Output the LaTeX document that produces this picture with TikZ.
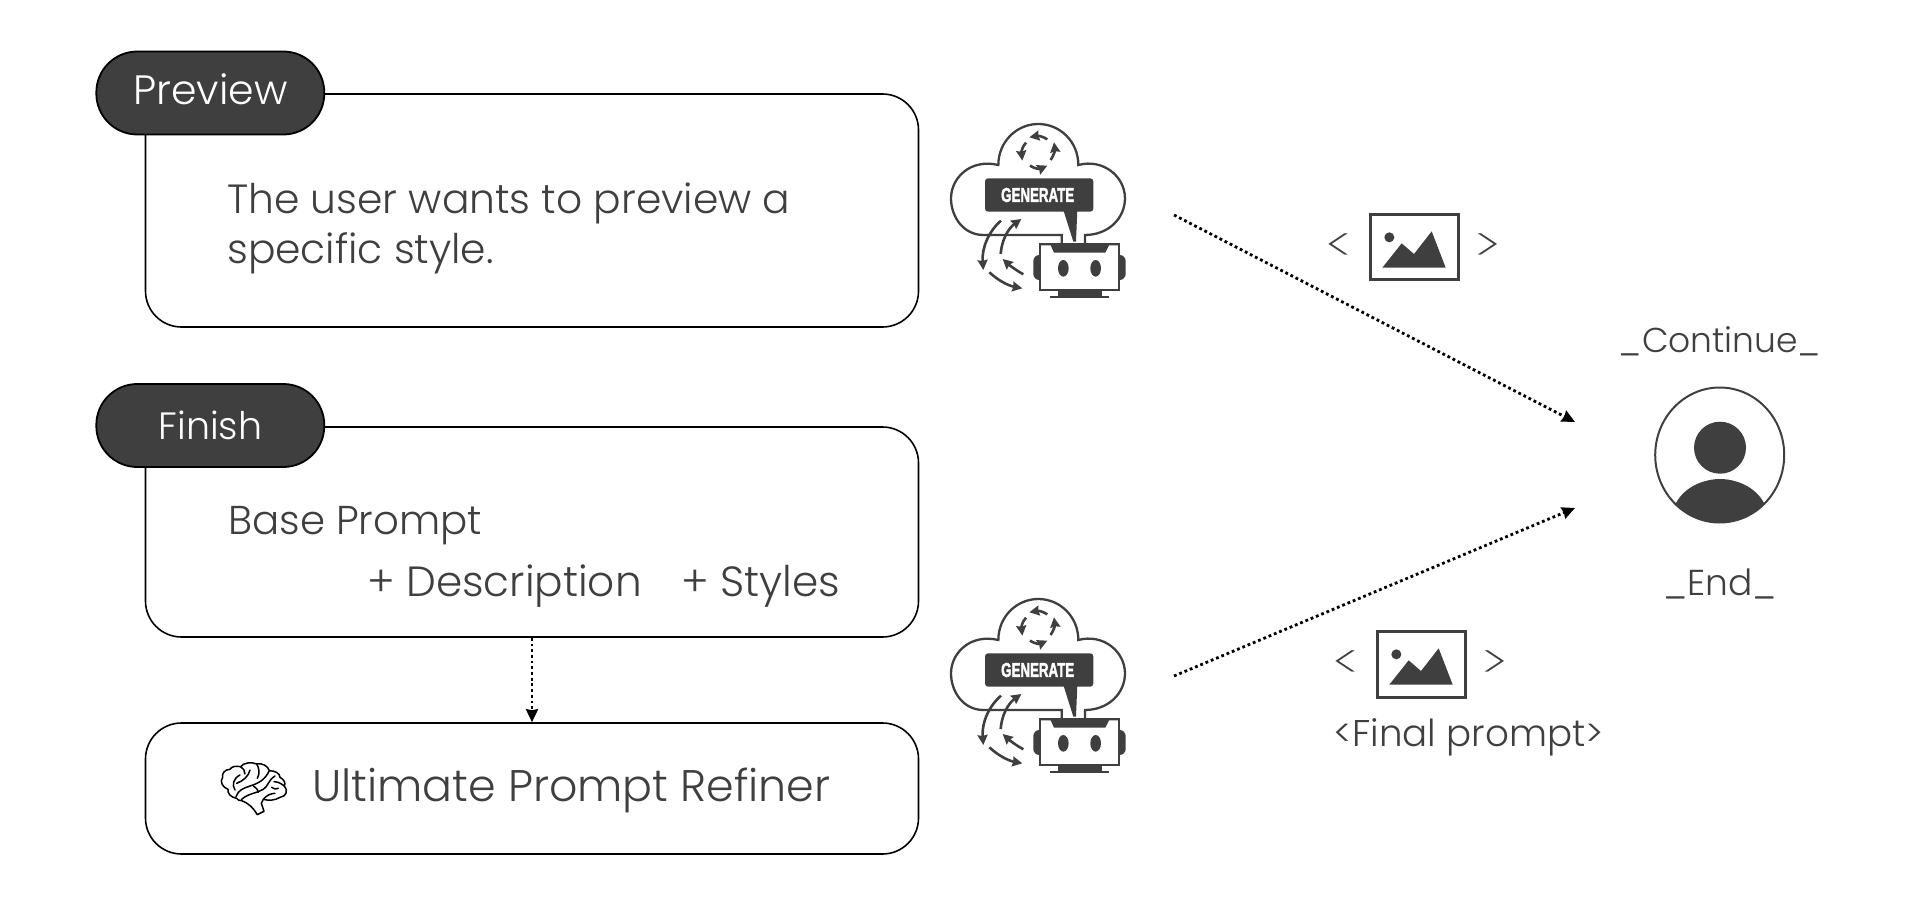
\documentclass[tikz,border=0pt]{standalone}
\usepackage{fontspec}
\usetikzlibrary{arrows.meta,shapes.geometric}
\setmainfont{Poppins}[UprightFont=* Light,BoldFont=* Medium]
\newfontfamily\genfont{Liberation Sans}[BoldFeatures={FakeBold=2.5}]
\newfontfamily\slimfont{Poppins}[UprightFont=* ExtraLight]
\definecolor{ink}{HTML}{3F3F3F}
\newcommand{\flatglyph}[1]{\scalebox{0.92}[0.69]{\slimfont #1}}
\tikzset{
  panel/.style={draw=black,line width=1.6pt,fill=white,rounded corners=36pt,minimum width=773pt,inner sep=0pt},
  pill/.style={draw=black,line width=1.8pt,fill=ink,rounded corners=41pt,minimum width=228pt,minimum height=83pt,inner sep=0pt},
  txt/.style={text=ink,anchor=base west,inner sep=0pt,font=\fontsize{#1}{#1}\selectfont},
  ctxt/.style={text=ink,anchor=base,inner sep=0pt,font=\fontsize{#1}{#1}\selectfont},
  bracket/.style={text=ink,anchor=center,inner sep=0pt,font=\fontsize{66}{66}\selectfont},
  dots/.style={line width=2.8pt,dash pattern=on 2.8pt off 2.9pt,-{Stealth[length=13pt,width=12pt,inset=1pt]},black},
  thick ink/.style={draw=ink,line width=2.3pt},
  small arrow/.style={draw=ink,line width=2.6pt,-{Stealth[length=10pt,width=10pt,inset=1pt]}},
  brainline/.style={draw=black,line width=1.5pt,line cap=round,line join=round},
}
% #1 name, #2 x, #3 y
\newcommand{\roboticon}[3]{%
\begin{scope}[shift={(#2,#3)},x=0.3333pt,y=-0.3333pt]
  \draw[thick ink,fill=white] (395,432) -- (395,405) -- (160,405) .. controls (100,405) and (63,350) .. (63,295)
    .. controls (63,235) and (120,175) .. (205,195) .. controls (205,125) and (260,72) .. (325,72)
    .. controls (390,72) and (445,125) .. (445,195) .. controls (520,175) and (585,230) .. (585,295)
    .. controls (585,355) and (535,405) .. (465,405) -- (465,432);
  \draw[small arrow] (352,118) .. controls (340,110) and (325,107) .. (298,112);
  \draw[small arrow] (288,128) .. controls (277,140) and (274,155) .. (277,182);
  \draw[small arrow] (300,197) .. controls (315,207) and (330,207) .. (352,197);
  \draw[small arrow] (362,180) .. controls (372,165) and (375,150) .. (372,127);
  \fill[ink,rounded corners=3pt] (165,235) rectangle (490,335);
  \fill[ink] (400,330) -- (442,330) -- (438,425) -- (430,425) -- cycle;
  \node[inner sep=0pt,text=white] (#1gen) at (323,285) {\resizebox{73pt}{14pt}{\genfont\bfseries GENERATE}};
  \fill[ink,rounded corners=6pt] (310,465) rectangle (345,540);
  \fill[ink,rounded corners=6pt] (553,465) rectangle (587,540);
  \draw[thick ink,fill=white] (330,432) rectangle (567,571);
  \fill[ink] (330,432) -- (567,432) -- (567,436) -- (537,436) -- (526,458) -- (372,458) -- (362,436) -- (330,436) -- cycle;
  \fill[ink] (400,505) ellipse [x radius=16,y radius=25];
  \fill[ink] (497,505) ellipse [x radius=16,y radius=25];
  \fill[ink] (385,571) rectangle (515,590);
  \fill[ink] (360,587) rectangle (537,594);
  \draw[small arrow] (213,362) .. controls (175,395) and (155,445) .. (160,510);
  \draw[small arrow] (212,462) .. controls (215,420) and (235,385) .. (274,357);
  \draw[small arrow] (280,523) .. controls (260,512) and (240,497) .. (218,477);
  \draw[small arrow] (178,517) .. controls (205,542) and (235,557) .. (277,565);
\end{scope}}
% #1 name, #2 x, #3 y
\newcommand{\imageicon}[3]{%
\begin{scope}[shift={(#2,#3)},x=0.3333pt,y=-0.3333pt]
  \draw[draw=ink,line width=3pt,fill=white] (0,0) rectangle (264,198);
  \fill[ink] (58,70) circle [radius=15];
  \fill[ink] (37,161) -- (95,88) -- (132,120) -- (185,52) -- (227,161) -- cycle;
  \coordinate (#1) at (132,99);
\end{scope}}
\begin{document}
\begin{tikzpicture}[x=1pt,y=-1pt]
\useasboundingbox (0,0) rectangle (1918,904);
% boxes
\node[panel,minimum height=233pt] (previewbox) at (532,210.5) {};
\node[panel,minimum height=210pt] (finishbox) at (532,532) {};
\node[panel,minimum height=131pt] (refiner) at (532,788.5) {};
\node[pill] (previewpill) at (210.3,93) {};
\node[pill] (finishpill) at (210.3,425.5) {};
\node[text=white,anchor=base,inner sep=0pt,font=\fontsize{41}{41}\selectfont] (previewlabel) at (210.5,105) {Preview};
\node[text=white,anchor=base,inner sep=0pt,font=\fontsize{38}{38}\selectfont] (finishlabel) at (210.5,439) {Finish};
% texts
\node[txt=40.8] (t1) at (227,213) {The user wants to preview a};
\node[txt=40.8] (t2) at (227,263) {specific style.};
\node[txt=40.3] (t3) at (228,534) {Base Prompt};
\node[txt=42.2] (t4) at (367,596) {+ Description};
\node[txt=42.2] (t5) at (681,596) {+ Styles};
\node[txt=44.3] (t6) at (312,801) {Ultimate Prompt Refiner};
% brain
\begin{scope}[shift={(200,740)},x=0.3333pt,y=-0.3333pt]
  \draw[brainline,fill=white] (110,175) .. controls (92,172) and (82,160) .. (84,148) .. controls (68,142) and (58,125) .. (68,112)
    .. controls (65,100) and (75,88) .. (90,88) .. controls (95,78) and (110,78) .. (122,80) .. controls (130,68) and (155,65) .. (170,72)
    .. controls (185,68) and (205,78) .. (208,92) .. controls (225,92) and (240,100) .. (240,112) .. controls (252,118) and (258,130) .. (253,138)
    .. controls (265,150) and (260,170) .. (240,172) .. controls (225,182) and (205,182) .. (190,178) -- (184,190) -- (192,214) -- (172,224)
    .. controls (160,205) and (150,192) .. (125,182) .. controls (118,182) and (112,180) .. (110,175);
  \draw[brainline] (108,170) .. controls (115,150) and (130,145) .. (150,138) .. controls (175,130) and (195,120) .. (208,92);
  \draw[brainline] (120,105) .. controls (100,115) and (95,135) .. (105,150);
  \draw[brainline] (150,90) .. controls (145,110) and (130,122) .. (110,130);
  \draw[brainline] (122,80) .. controls (130,85) and (135,92) .. (135,102);
  \draw[brainline] (170,72) .. controls (178,85) and (180,100) .. (172,115);
  \draw[brainline] (125,178) .. controls (145,160) and (170,160) .. (190,148) .. controls (205,138) and (205,120) .. (225,108);
  \draw[brainline] (160,138) .. controls (170,145) and (175,150) .. (175,157);
  \draw[brainline] (190,178) .. controls (200,165) and (215,160) .. (225,160);
  \draw[brainline] (222,125) .. controls (235,125) and (245,132) .. (253,138);
  \draw[brainline] (235,145) .. controls (228,148) and (222,148) .. (215,142);
\end{scope}
% generate icons
\roboticon{icona}{930}{100}
\roboticon{iconb}{930}{575}
\coordinate (outa) at (1174,215);
\coordinate (outb) at (1174,676);
\coordinate (ina) at (1575,422);
\coordinate (inb) at (1575,508);
\draw[dots] (outa) -- (ina);
\draw[dots] (outb) -- (inb);
\draw[dots] (finishbox.south) -- (refiner.north);
% image icons
\imageicon{imga}{1370}{214}
\imageicon{imgb}{1377}{631}
\node[bracket] (la) at (1339,248) {\flatglyph{<}};
\node[bracket] (ra) at (1488,248) {\flatglyph{>}};
\node[bracket] (lb) at (1346,665) {\flatglyph{<}};
\node[bracket] (rb) at (1495,665) {\flatglyph{>}};
\node[txt=37.2] (finalprompt) at (1333.5,746) {<Final prompt>};
% user
\node[ctxt=34.5] (cont) at (1720,352) {\_Continue\_};
\node[ctxt=36] (endt) at (1720,595) {\_End\_};
\begin{scope}
  \path[clip] (1719.7,455) ellipse [x radius=64.5,y radius=67.5];
  \fill[ink] (1676,503) .. controls (1685,486) and (1705,479) .. (1720,479) .. controls (1735,479) and (1755,486) .. (1764,503) -- (1790,530) -- (1650,530) -- cycle;
\end{scope}
\fill[ink] (1720,447.7) circle [radius=26];
\node[ellipse,draw=ink,line width=2pt,minimum width=129pt,minimum height=135pt,inner sep=0pt] (user) at (1719.7,455) {};
\end{tikzpicture}
\end{document}
